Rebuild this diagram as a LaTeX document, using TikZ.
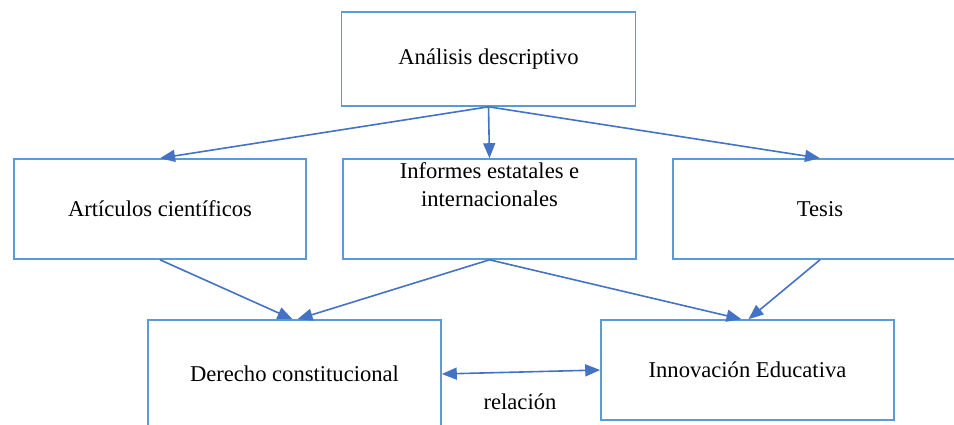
\documentclass[tikz,border=0pt]{standalone}
\usepackage{fontspec}
\setmainfont{Liberation Serif}
\usetikzlibrary{arrows.meta}
\definecolor{boxblue}{RGB}{91,155,213}
\definecolor{arrblue}{RGB}{68,114,196}
\begin{document}
\begin{tikzpicture}[x=0.5pt,y=-0.5pt,
  box/.style={draw=boxblue,line width=0.8pt,minimum width=147pt,minimum height=48pt,inner sep=0pt,font=\fontsize{11.3}{14}\selectfont},
  conn/.style={draw=arrblue,line width=0.8pt,-{Triangle[length=7.5pt,width=6pt]}},
  lbl/.style={font=\fontsize{11.3}{14}\selectfont,inner sep=0pt}]
\useasboundingbox (0,0) rectangle (954,424);
\clip (0,0) rectangle (954,424);
\node[box,minimum height=47pt] (top) at (488.5,59) {Análisis descriptivo};
\node[box,minimum width=146pt,minimum height=50pt] (art) at (160,209) {Artículos científicos};
\node[box,minimum width=146.5pt,minimum height=50pt] (inf) at (489.5,209) {};
\node[lbl,align=center,anchor=north] (inftxt) at ([yshift=-2pt]inf.north) {Informes estatales e\\internacionales};
\node[box,minimum width=147pt,minimum height=50pt] (tes) at (820,209) {Tesis};
\node[box,minimum width=146.5pt,minimum height=54pt] (der) at (294.5,374) {Derecho constitucional};
\node[box,minimum width=146.5pt,minimum height=50pt] (inn) at (747.5,370) {Innovación Educativa};
\node[lbl] (rel) at (520,402) {relación};
\draw[conn] (top.south) -- (art.north);
\draw[conn] (top.south) -- (inf.north);
\draw[conn] (top.south) -- (tes.north);
\draw[conn] (art.south) -- ([xshift=-1pt]der.north);
\draw[conn] (inf.south) -- ([xshift=1.5pt]der.north);
\draw[conn] (inf.south) -- ([xshift=-3pt]inn.north);
\draw[conn] (tes.south) -- ([xshift=0.5pt]inn.north);
\draw[draw=arrblue,line width=0.8pt,{Triangle[length=7.5pt,width=6pt]}-{Triangle[length=7.5pt,width=6pt]}] (der.east) -- (inn.west);
\end{tikzpicture}
\end{document}
